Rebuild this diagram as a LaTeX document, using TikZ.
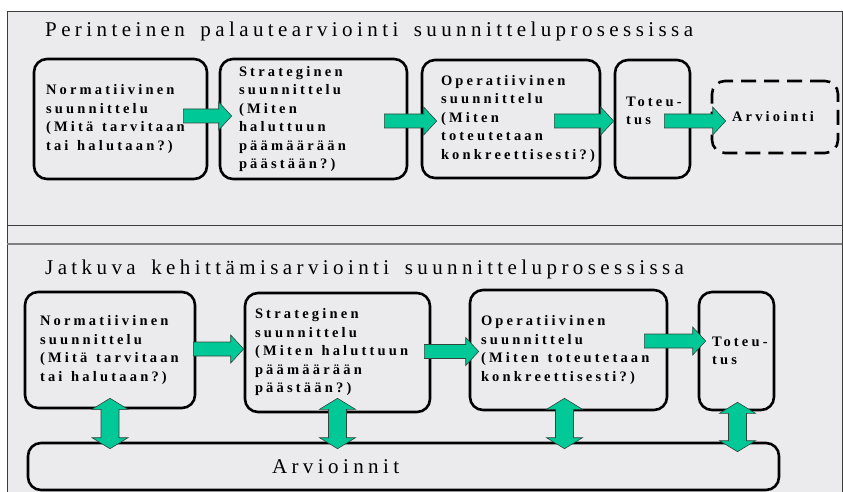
\documentclass[tikz,border=0pt]{standalone}
\definecolor{pohja}{RGB}{235, 235, 238}
\definecolor{nuolivari}{RGB}{0, 200, 150}
\definecolor{nuolireuna}{RGB}{50, 70, 60}
\definecolor{kehys}{RGB}{60, 60, 60}
\usepackage{fontspec}
\setmainfont{Liberation Serif}
\newfontfamily\otsikkofont[LetterSpace=21, WordSpace=1.6]{Liberation Serif}
\newfontfamily\laatikkofont[LetterSpace=22]{Liberation Serif}
\newcommand{\otsikko}{\otsikkofont\fontsize{21}{25}\selectfont}
\newcommand{\laatikko}{\laatikkofont\bfseries\fontsize{14.5}{18.5}\selectfont}
\newcommand{\vali}{\hspace{0.6em}}
\usepackage{tikz}
\usetikzlibrary{calc, positioning}

\begin{document}
\begin{tikzpicture}[x=1pt, y=-1pt,
    vaihe/.style={draw=black, line width=2.6pt, rounded corners=13pt, align=left,
      inner ysep=0pt, font=\laatikko},
    otsikko/.style={anchor=base west, inner sep=0pt, font=\otsikko},
    nuoli/.style={draw=nuolireuna, line width=0.6pt, fill=nuolivari,
      to path={let \p1=(\tikztostart), \p2=(\tikztotarget) in
        (\x1,\y1+7pt) -- (\x2-13pt,\y1+7pt) -- (\x2-13pt,\y1+14pt) -- (\x2,\y1)
        -- (\x2-13pt,\y1-14pt) -- (\x2-13pt,\y1-7pt) -- (\x1,\y1-7pt) -- cycle}},
    kaksoisnuoli/.style={draw=nuolireuna, line width=0.6pt, fill=nuolivari,
      to path={let \p1=(\tikztostart), \p2=(\tikztotarget) in
        (\x1,\y1) -- (\x1+18pt,\y1-11pt) -- (\x1+9pt,\y1-11pt) -- (\x1+9pt,\y2+11pt)
        -- (\x1+18pt,\y2+11pt) -- (\x1,\y2) -- (\x1-18pt,\y2+11pt) -- (\x1-9pt,\y2+11pt)
        -- (\x1-9pt,\y1-11pt) -- (\x1-18pt,\y1-11pt) -- cycle}}]
    \useasboundingbox (0,0) rectangle (843,492);
    % paneelit
    \fill[pohja] (7,12) rectangle (843,492);
    \draw[kehys, line width=1pt] (7,492) -- (7,12) -- (842,12) -- (842,492);
    \draw[kehys, line width=1pt] (7,225) -- (842,225);
    \draw[gray, line width=2pt] (7,244) -- (842,244);

    % perinteinen palautearviointi
    \node[otsikko] (otsikko1) at (45,37) {Perinteinen palautearviointi suunnitteluprosessissa};
    \node[vaihe, minimum width=173pt, minimum height=120pt, text width=149pt] (norm1) at (120.5,119)
      {Normatiivinen\\ suunnittelu\\ (Mitä\vali tarvitaan\\ tai\vali halutaan?)};
    \node[vaihe, minimum width=187pt, minimum height=120pt, text width=149pt] (strat1) at (313.5,119)
      {Strateginen\\ suunnittelu\\ (Miten\\ haluttuun\\ päämäärään\\ päästään?)};
    \node[vaihe, minimum width=178pt, minimum height=118pt, text width=140pt] (oper1) at (511,119)
      {Operatiivinen\\ suunnittelu\\ (Miten\\ toteutetaan\\ konkreettisesti?)};
    \node[vaihe, minimum width=75pt, minimum height=118pt, text width=53pt] (tot1) at (652.5,119)
      {\mbox{Toteu-}\\ tus\\[-2pt]\mbox{}};
    \node[vaihe, dash pattern=on 15pt off 8pt, minimum width=126pt, minimum height=72pt,
      text width=86pt] (arv1) at (775,117) {Arviointi};
    \draw[nuoli] ([xshift=-25pt, yshift=3pt]norm1.east) to ([xshift=13pt]strat1.west);
    \draw[nuoli] ([xshift=-24pt, yshift=-2pt]strat1.east) to ([xshift=16pt]oper1.west);
    \draw[nuoli] ([xshift=-47pt, yshift=-2pt]oper1.east) to (tot1.west);
    \draw[nuoli] ([xshift=-27pt, yshift=-2pt]tot1.east) to ([xshift=15pt]arv1.west);

    % jatkuva kehittamisarviointi
    \node[otsikko] (otsikko2) at (45,274) {Jatkuva kehittämisarviointi suunnitteluprosessissa};
    \node[vaihe, minimum width=170pt, minimum height=116pt, text width=140pt] (norm2) at (110,350)
      {Normatiivinen\\ suunnittelu\\ (Mitä\vali tarvitaan\\ tai\vali halutaan?)};
    \node[vaihe, minimum width=185pt, minimum height=119pt, text width=165pt] (strat2) at (337.5,352.5)
      {Strateginen\\ suunnittelu\\ (Miten\vali haluttuun\\ päämäärään\\ päästään?)};
    \node[vaihe, minimum width=197pt, minimum height=120pt, text width=175pt] (oper2) at (568.5,350)
      {Operatiivinen\\ suunnittelu\\ (Miten\vali toteutetaan\\ konkreettisesti?)};
    \node[vaihe, minimum width=75pt, minimum height=118pt, text width=49pt] (tot2) at (736.5,351)
      {\mbox{Toteu-}\\ tus};
    \node[vaihe, minimum width=751pt, minimum height=47pt, text width=263pt, font=\otsikko]
      (arvioinnit) at (403.5,466.5) {Arvioinnit};
    \draw[nuoli] ([xshift=-3pt, yshift=1pt]norm2.east) to (strat2.west);
    \draw[nuoli] ([xshift=-7pt, yshift=1pt]strat2.east) to ([xshift=10pt]oper2.west);
    \draw[nuoli] ([xshift=-24pt, yshift=9pt]oper2.east) to ([xshift=8pt]tot2.west);
    \draw[kaksoisnuoli] ([yshift=11pt]norm2.south) to ([yshift=-7pt]arvioinnit.north);
    \draw[kaksoisnuoli] ([yshift=15pt]strat2.south) to ([yshift=-7pt]arvioinnit.north);
    \draw[kaksoisnuoli] ([xshift=-4pt, yshift=13pt]oper2.south) to ([yshift=-7pt]arvioinnit.north);
    \draw[kaksoisnuoli] ([xshift=1pt, yshift=9pt]tot2.south) to ([yshift=-10pt]arvioinnit.north);
  \end{tikzpicture}
\end{document}
